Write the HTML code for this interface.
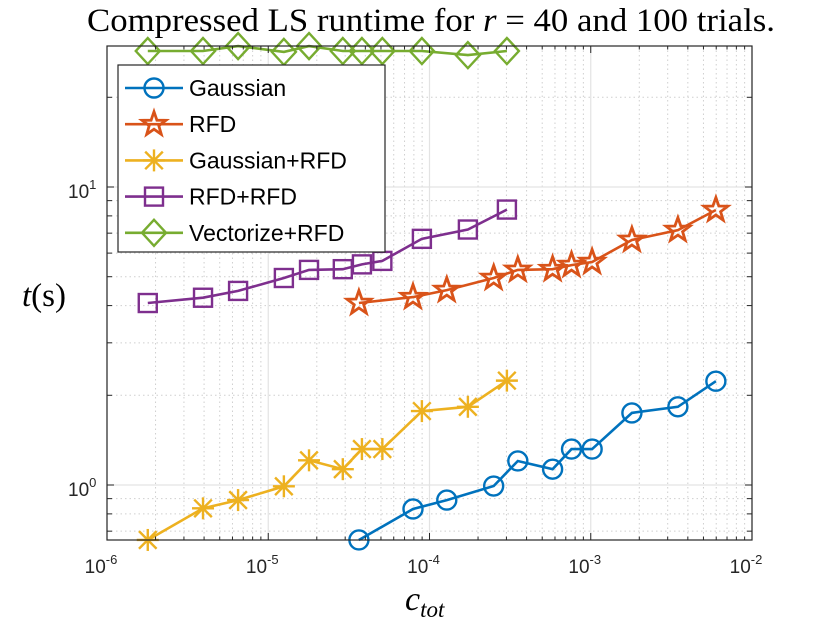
<!DOCTYPE html>
<html><head><meta charset="utf-8"><style>
html,body{margin:0;padding:0;background:#fff;}
svg{display:block;}
.sans{font-family:"Liberation Sans",sans-serif;}
.serif{font-family:"Liberation Serif",serif;}
</style></head><body>
<svg id="chart" width="830" height="623" viewBox="0 0 830 623" xmlns="http://www.w3.org/2000/svg">
<rect width="830" height="623" fill="#fff"/>
<g id="grid"></g>
<g id="series"></g>
<g id="axes"></g>
<text class="serif" x="431" y="31" text-anchor="middle" font-size="33" textLength="688" lengthAdjust="spacingAndGlyphs" fill="#000">Compressed LS runtime for <tspan font-style="italic">r</tspan> = 40 and 100 trials.</text>
<text class="serif" x="405" y="610" font-style="italic" font-size="34" fill="#000">c<tspan font-size="23" dy="7">tot</tspan></text>
<text class="serif" x="22" y="306" font-size="33" fill="#000"><tspan font-style="italic">t</tspan>(s)</text>
<g id="legend"></g>
</svg>
<script>
const xGaussian=[3.65e-5,7.9e-5,1.28e-4,2.5e-4,3.53e-4,5.8e-4,7.6e-4,1.02e-3,1.8e-3,3.47e-3,5.97e-3];
const xSketch=[1.79e-6,3.94e-6,6.5e-6,1.25e-5,1.79e-5,2.9e-5,3.81e-5,5.1e-5,8.97e-5,1.73e-4,3.02e-4];
const tGaussian=[0.654,0.831,0.89,0.992,1.204,1.13,1.32,1.32,1.745,1.83,2.23];
const tGaussRFD=[0.654,0.835,0.89,0.99,1.21,1.13,1.32,1.32,1.77,1.83,2.24];
const tRFD=[4.08,4.27,4.51,4.95,5.27,5.3,5.47,5.6,6.64,7.17,8.37];
const tRFDRFD=[4.08,4.25,4.48,4.95,5.27,5.3,5.5,5.65,6.7,7.2,8.4];
const tVector=[28.6,28.6,29.7,28.4,29.7,28.6,28.6,28.6,28.6,27.7,28.6];
const xTickExp=[-6,-5,-4,-3,-2];
const yTickExp=[0,1];

const NS="http://www.w3.org/2000/svg";
const L=107,R=752,T=46,B=540;
const xmin=-6,xmax=-2, y0=485, ppd=298;
function X(v){return L+(Math.log10(v)-xmin)/(xmax-xmin)*(R-L);}
function Y(v){return y0-Math.log10(v)*ppd;}
function el(tag,attrs,parent){const e=document.createElementNS(NS,tag);for(const k in attrs)e.setAttribute(k,attrs[k]);parent.appendChild(e);return e;}
const grid=document.getElementById('grid'),axes=document.getElementById('axes'),ser=document.getElementById('series'),leg=document.getElementById('legend');

for(let e=-6;e<-2;e++){for(let m=2;m<=9;m++){const x=X(m*Math.pow(10,e));
 const g=el('line',{x1:x,x2:x,y1:T,y2:B,stroke:'#cfcfcf','stroke-width':1,'stroke-dasharray':'1.5 3'},grid);
 
 el('line',{x1:x,x2:x,y1:B,y2:B-3.5,stroke:'#262626','stroke-width':1},axes);
 el('line',{x1:x,x2:x,y1:T,y2:T+3.5,stroke:'#262626','stroke-width':1},axes);}}
for(let e=-1;e<=1;e++){for(let m=2;m<=9;m++){const v=m*Math.pow(10,e);const y=Y(v);if(y<T||y>B)continue;
 const g=el('line',{x1:L,x2:R,y1:y,y2:y,stroke:'#cfcfcf','stroke-width':1,'stroke-dasharray':'1.5 3'},grid);
 
 el('line',{x1:L,x2:L+5,y1:y,y2:y,stroke:'#262626','stroke-width':1},axes);
 el('line',{x1:R,x2:R-5,y1:y,y2:y,stroke:'#262626','stroke-width':1},axes);}}
xTickExp.forEach(e=>{const x=X(Math.pow(10,e));
 const g=el('line',{x1:x,x2:x,y1:T,y2:B,stroke:'#e3e3e3','stroke-width':1.2},grid);
 
 el('line',{x1:x,x2:x,y1:B,y2:B-7,stroke:'#262626','stroke-width':1},axes);
 el('line',{x1:x,x2:x,y1:T,y2:T+7,stroke:'#262626','stroke-width':1},axes);
 const t=el('text',{class:'sans',x:x-6,y:B+33,'text-anchor':'middle','font-size':19,fill:'#262626'},axes);
 
 t.innerHTML='10<tspan font-size="13" dy="-9">'+e+'</tspan>';});
yTickExp.forEach(e=>{const y=Y(Math.pow(10,e));
 const g=el('line',{x1:L,x2:R,y1:y,y2:y,stroke:'#e3e3e3','stroke-width':1.2},grid);
 
 el('line',{x1:L,x2:L+7,y1:y,y2:y,stroke:'#262626','stroke-width':1},axes);
 el('line',{x1:R,x2:R-7,y1:y,y2:y,stroke:'#262626','stroke-width':1},axes);
 const t=el('text',{class:'sans',x:68,y:y+11,'font-size':19,fill:'#262626'},axes);
 
 t.innerHTML='10<tspan font-size="13" dy="-9">'+e+'</tspan>';});
const box=el('rect',{x:L,y:T,width:R-L,height:B-T,fill:'none',stroke:'#262626','stroke-width':1.2},axes);


function marker(type,cx,cy,color,parent){
 const s={fill:'none',stroke:color,'stroke-width':2.4};
 if(type==='o')return el('circle',Object.assign({cx:cx,cy:cy,r:9.5},s),parent);
 if(type==='s')return el('rect',Object.assign({x:cx-9,y:cy-9,width:18,height:18},s),parent);
 if(type==='d')return el('polygon',Object.assign({points:`${cx},${cy-13} ${cx+12},${cy} ${cx},${cy+13} ${cx-12},${cy}`},s),parent);
 if(type==='*'){const g=el('g',{},parent);const r=11;
  [[0,-r,0,r],[-r*0.8,-r*0.8,r*0.8,r*0.8],[-r*0.8,r*0.8,r*0.8,-r*0.8],[-r,0,r,0]].forEach(p=>{
   el('line',{x1:cx+p[0],y1:cy+p[1],x2:cx+p[2],y2:cy+p[3],stroke:color,'stroke-width':2.4},g);});
  return g;}
 if(type==='p'){let pts=[];for(let i=0;i<10;i++){const a=-Math.PI/2+i*Math.PI/5;const r=i%2?5:12.5;pts.push((cx+r*Math.cos(a)).toFixed(1)+','+(cy+r*Math.sin(a)).toFixed(1));}
  return el('polygon',Object.assign({points:pts.join(' ')},s,{'stroke-width':2.8}),parent);}
}
const seriesDefs=[
 {name:'Gaussian',xs:xGaussian,ys:tGaussian,c:'#0072BD',m:'o',key:'gaussian'},
 {name:'RFD',xs:xGaussian,ys:tRFD,c:'#D95319',m:'p',key:'rfd'},
 {name:'Gaussian+RFD',xs:xSketch,ys:tGaussRFD,c:'#EDB120',m:'*',key:'gaussian-rfd'},
 {name:'RFD+RFD',xs:xSketch,ys:tRFDRFD,c:'#7E2F8E',m:'s',key:'rfd-rfd'},
 {name:'Vectorize+RFD',xs:xSketch,ys:tVector,c:'#77AC30',m:'d',key:'vectorize-rfd'}];
seriesDefs.forEach(s=>{
 const g=el('g',{},ser);
 
 const pts=s.xs.map((x,i)=>X(x).toFixed(1)+','+Y(s.ys[i]).toFixed(1)).join(' ');
 const pl=el('polyline',{points:pts,fill:'none',stroke:s.c,'stroke-width':2.6},g);
 
 s.xs.forEach((x,i)=>{const mk=marker(s.m,X(x),Y(s.ys[i]),s.c,g);
  });
});
const lb=el('rect',{x:118,y:65,width:267,height:187,fill:'#fff',stroke:'#262626','stroke-width':1.2},leg);

seriesDefs.forEach((s,i)=>{const y=88+i*36.2;
 const g=el('g',{},leg);
 
 el('line',{x1:125,x2:183,y1:y,y2:y,stroke:s.c,'stroke-width':2.6},g);
 marker(s.m,154,y,s.c,g);
 const t=el('text',{class:'sans',x:189,y:y+8,'font-size':23,fill:'#000'},g);t.textContent=s.name;
 
});
</script>
</body></html>
